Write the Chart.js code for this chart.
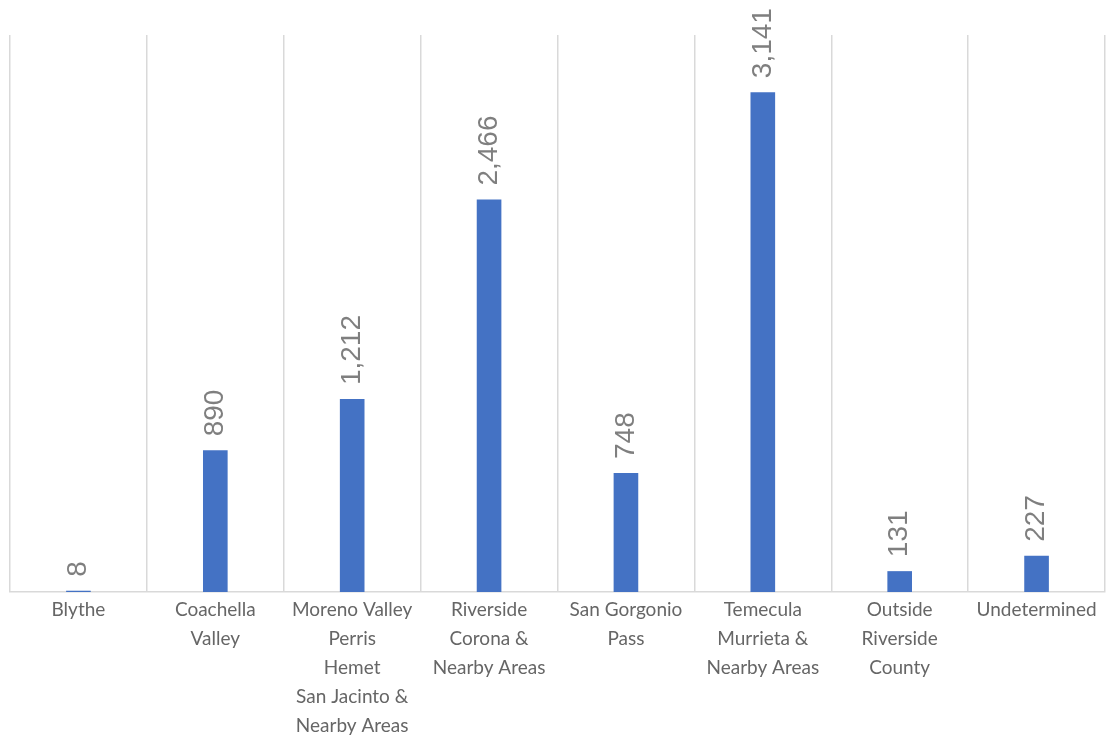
<!DOCTYPE html>
<html>
<head>
<meta charset="utf-8">
<script src="https://cdn.jsdelivr.net/npm/chart.js@4"></script>
<style>
  html, body { margin: 0; padding: 0; background: #fff; }
  #wrap { width: 1110px; height: 736px; }
</style>
</head>
<body>
<div id="wrap"><canvas id="myChart"></canvas></div>
<script>
// categories (multi-line labels)
var regions = [
    ['Blythe'],
    ['Coachella', 'Valley'],
    ['Moreno Valley', 'Perris', 'Hemet', 'San Jacinto &', 'Nearby Areas'],
    ['Riverside', 'Corona &', 'Nearby Areas'],
    ['San Gorgonio', 'Pass'],
    ['Temecula', 'Murrieta &', 'Nearby Areas'],
    ['Outside', 'Riverside', 'County'],
    ['Undetermined']
];

// counts per region
var counts = [8, 890, 1212, 2466, 748, 3141, 131, 227];

// y axis range
var yMax = 3500;

// draws the value above each bar, rotated
var barLabels = {
    id: 'barLabels',
    afterDatasetsDraw: function (chart) {
        var c = chart.ctx;
        var meta = chart.getDatasetMeta(0);
        c.save();
        c.fillStyle = '#7f7f7f';
        c.font = '28px "Liberation Sans", Arial, sans-serif';
        c.textAlign = 'left';
        c.textBaseline = 'middle';
        meta.data.forEach(function (bar, i) {
            var txt = counts[i].toLocaleString('en-US');
            c.save();
            c.translate(bar.x, bar.y - 14);
            c.rotate(-Math.PI / 2);
            c.fillText(txt, 0, 0);
            c.restore();
        });
        c.restore();
    }
};

var ctx = document.getElementById('myChart');
var chart = new Chart(ctx, {
    type: 'bar',
    data: {
        labels: regions,
        datasets: [{
            data: counts,
            backgroundColor: '#4472c4',
            barPercentage: 0.9,
            categoryPercentage: 0.2
        }]
    },
    options: {
        responsive: true,
        maintainAspectRatio: false,
        animation: false,
        layout: { padding: { left: 10, right: 5, top: 35, bottom: 0 } },
        plugins: {
            legend: { display: false },
            tooltip: { enabled: false }
        },
        scales: {
            x: {
                grid: {
                    offset: true,
                    color: '#d9d9d9',
                    lineWidth: 1.5,
                    drawTicks: false
                },
                border: { color: '#d9d9d9', width: 1.5 },
                ticks: {
                    color: '#666666',
                    font: { family: 'Lato, "Open Sans", sans-serif', size: 19, lineHeight: 1.53 },
                    padding: 3,
                    maxRotation: 0,
                    autoSkip: false
                },
                afterFit: function (scale) { scale.height = 144; }
            },
            y: {
                display: false,
                min: 0,
                max: yMax
            }
        }
    },
    plugins: [barLabels]
});
</script>
</body>
</html>
